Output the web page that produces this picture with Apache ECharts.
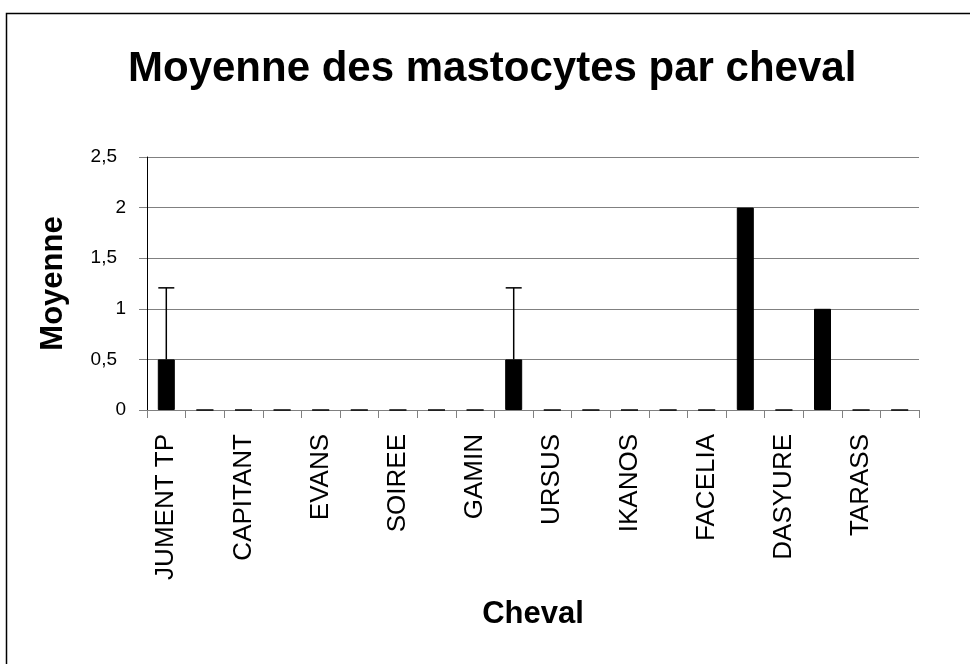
<!DOCTYPE html>
<html>
<head>
<meta charset="utf-8">
<script src="https://cdn.jsdelivr.net/npm/echarts@6/dist/echarts.min.js"></script>
<style>html,body{margin:0;padding:0;background:#fff}#c{width:970px;height:664px}</style>
</head>
<body>
<div id="c"></div>
<script>
// Categories (only every other label is shown in the reference)
var categories = ['JUMENT TP','','CAPITANT','','EVANS','','SOIREE','','GAMIN','','URSUS','','IKANOS','','FACELIA','','DASYURE','','TARASS',''];
// Mean values per horse
var meanValues = [0.5,0,0,0,0,0,0,0,0,0.5,0,0,0,0,0,2,0,1,0,0];
// Standard deviation (error bar, upper side)
var errorValues = [0.707,0,0,0,0,0,0,0,0,0.707,0,0,0,0,0,0,0,0,0,0];
var yTicks = {min:0, max:2.5, interval:0.5};

var FONT = 'Liberation Sans, Arial, sans-serif';
var errData = [];
for (var i = 0; i < categories.length; i++) {
  if (errorValues[i] > 0) errData.push([i, meanValues[i], meanValues[i] + errorValues[i]]);
}

var chart = echarts.init(document.getElementById('c'), null, {renderer:'canvas'});
chart.setOption({
  backgroundColor:'#fff',
  animation:false,
  title:{
    text:'Moyenne des mastocytes par cheval',
    left:123, top:43,
    textStyle:{fontFamily:FONT, fontSize:42, fontWeight:'bold', color:'#000'}
  },
  graphic:[{
    type:'rect', shape:{x:6.5, y:13.5, width:1000, height:700},
    style:{fill:'none', stroke:'#000', lineWidth:1.5}, silent:true
  }],
  grid:{left:147, right:51, top:157, bottom:254},
  xAxis:{
    type:'category', data:categories,
    name:'Cheval', nameLocation:'middle', nameGap:189,
    nameTextStyle:{fontFamily:FONT, fontSize:31, fontWeight:'bold', color:'#000'},
    axisLine:{lineStyle:{color:'#808080', width:1}},
    axisTick:{show:true, length:8, interval:0, alignWithLabel:false, lineStyle:{color:'#808080'}},
    axisLabel:{interval:1, rotate:90, margin:24, fontFamily:FONT, fontSize:26, color:'#000'}
  },
  yAxis:{
    type:'value', min:yTicks.min, max:yTicks.max, interval:yTicks.interval,
    name:'Moyenne', nameLocation:'middle', nameGap:78, nameRotate:90,
    nameTextStyle:{fontFamily:FONT, fontSize:31, fontWeight:'bold', color:'#000'},
    axisLine:{show:true, lineStyle:{color:'#000', width:1}},
    axisTick:{show:true, length:8, lineStyle:{color:'#808080'}},
    splitLine:{lineStyle:{color:'#808080', width:1}},
    axisLabel:{
      margin:21, fontFamily:FONT, fontSize:19, color:'#000',
      formatter:function(v){
        var s = String(v).replace('.', ',');
        return (v % 1 !== 0) ? '{d|' + s + '}' : '{i|' + s + '}';
      },
      rich:{
        d:{fontFamily:FONT, fontSize:19, color:'#000', padding:[0,9,0,0]},
        i:{fontFamily:FONT, fontSize:19, color:'#000'}
      }
    }
  },
  series:[
    {
      type:'bar', data:meanValues, barWidth:17,
      itemStyle:{color:'#000', borderColor:'#000', borderWidth:1}
    },
    {
      type:'custom', data:errData, z:5,
      renderItem:function(params, api){
        var x = api.value(0);
        var base = api.coord([x, api.value(1)]);
        var top = api.coord([x, api.value(2)]);
        var half = 8;
        return {
          type:'group',
          children:[
            {type:'line', shape:{x1:base[0], y1:base[1], x2:top[0], y2:top[1]}, style:{stroke:'#000', lineWidth:1.5}},
            {type:'line', shape:{x1:top[0]-half, y1:top[1], x2:top[0]+half, y2:top[1]}, style:{stroke:'#000', lineWidth:1.5}}
          ]
        };
      }
    }
  ]
});
</script>
</body>
</html>
